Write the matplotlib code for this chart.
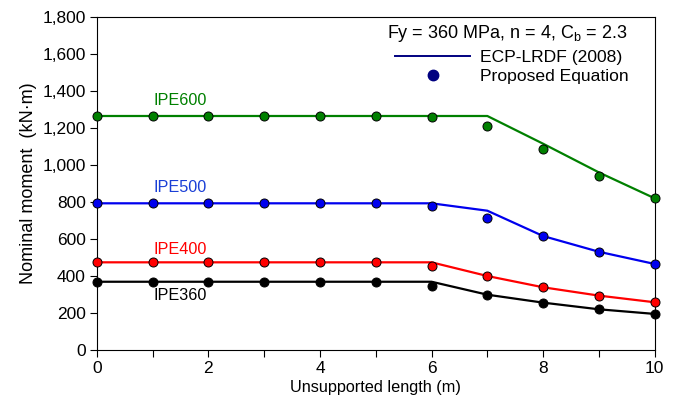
import matplotlib.pyplot as plt
from matplotlib.ticker import MultipleLocator, FuncFormatter
from matplotlib.lines import Line2D

plt.rcParams['font.family'] = ['Liberation Sans', 'DejaVu Sans']

length = [0, 1, 2, 3, 4, 5, 6, 7, 8, 9, 10]

# ECP-LRDF (2008) curves
ecp_600 = [1265, 1265, 1265, 1265, 1265, 1265, 1265, 1265, 1115, 960, 820]
ecp_500 = [793, 793, 793, 793, 793, 793, 793, 753, 616, 531, 465]
ecp_400 = [474, 474, 474, 474, 474, 474, 474, 400, 339, 294, 258]
ecp_360 = [369, 369, 369, 369, 369, 369, 369, 299, 256, 220, 195]

# proposed equation points
prop_600 = [1265, 1265, 1265, 1265, 1265, 1265, 1260, 1210, 1085, 940, 821]
prop_500 = [793, 793, 793, 793, 793, 793, 778, 715, 616, 531, 465]
prop_400 = [474, 474, 474, 474, 474, 474, 454, 400, 339, 294, 258]
prop_360 = [369, 369, 369, 369, 369, 369, 346, 299, 256, 220, 195]

sections = ["IPE600", "IPE500", "IPE400", "IPE360"]
colors = ["#008000", "#0000ee", "#ff0000", "#000000"]
label_colors = ["#008000", "#1a3fd6", "#ff0000", "#000000"]
label_xy = [(1.5, 1351), (1.5, 877), (1.5, 546), (1.5, 292)]

fig = plt.figure(figsize=(6.82, 3.98), dpi=100)
ax = fig.add_axes([0.142, 0.1206, 0.818, 0.8366])

for ecp, prop, c, name, lc, (tx, ty) in zip(
        [ecp_600, ecp_500, ecp_400, ecp_360],
        [prop_600, prop_500, prop_400, prop_360],
        colors, sections, label_colors, label_xy):
    ax.plot(length, ecp, color=c, lw=1.6, zorder=2, clip_on=False)
    ax.plot(length, prop, 'o', color=c, mec='black', mew=0.7, ms=6.5,
            zorder=3, clip_on=False)
    ax.text(tx, ty, name, color=lc, fontsize=11.7, ha='center', va='center')

ax.set_xlim(0, 10)
ax.set_ylim(0, 1800)
ax.xaxis.set_major_locator(MultipleLocator(2))
ax.xaxis.set_minor_locator(MultipleLocator(1))
ax.yaxis.set_major_locator(MultipleLocator(200))
ax.yaxis.set_major_formatter(FuncFormatter(lambda v, p: f"{int(v):,}"))
ax.tick_params(axis='both', which='both', direction='out', labelsize=12.5,
               width=0.8, colors='black', pad=3)
ax.tick_params(which='major', length=5)
ax.tick_params(which='minor', length=5)
for s in ax.spines.values():
    s.set_linewidth(0.8)

ax.set_xlabel("Unsupported length (m)", fontsize=11.7, labelpad=3)
ax.set_ylabel("Nominal moment  (kN\u00b7m)", fontsize=13, labelpad=4)

fig.text(628 / 682, 1 - 33 / 398,
         "Fy = 360 MPa, n = 4, C$_\\mathregular{b}$ = 2.3",
         ha='right', va='center', fontsize=13)
handles = [Line2D([], [], color='#000080', lw=1.4),
           Line2D([], [], ls='none', marker='o', color='#000080', ms=7.5)]
fig.legend(handles, ["ECP-LRDF (2008)", "Proposed Equation"],
           loc='upper left', bbox_to_anchor=(395 / 682, 1 - 50 / 398),
           frameon=False, fontsize=12.6, handlelength=4.3,
           handletextpad=0.57, labelspacing=0.2, borderpad=0,
           borderaxespad=0)

fig.savefig("out.png", dpi=100, facecolor='white')
